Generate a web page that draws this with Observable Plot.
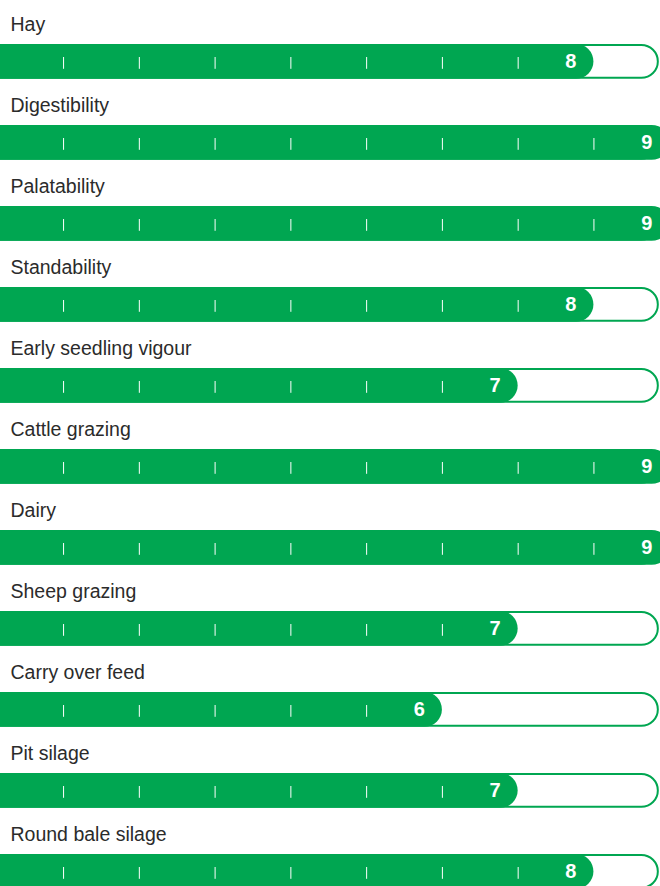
<!DOCTYPE html>
<html>
<head>
<meta charset="utf-8">
<script src="https://cdn.jsdelivr.net/npm/d3@7"></script>
<script src="https://cdn.jsdelivr.net/npm/@observablehq/plot@0.6"></script>
<style>
  html, body { margin: 0; padding: 0; background: #fff; }
  #chart svg { display: block; overflow: hidden; }
</style>
</head>
<body>
<div id="chart"></div>
<script>
const categories = ["Hay", "Digestibility", "Palatability", "Standability", "Early seedling vigour", "Cattle grazing", "Dairy", "Sheep grazing", "Carry over feed", "Pit silage", "Round bale silage"];
const ratings = [8, 9, 9, 8, 7, 9, 9, 7, 6, 7, 8];
const tickValues = [1, 2, 3, 4, 5, 6, 7, 8];
const scaleMax = 9;
const trackEnd = 8.85;
const barStart = -1;

const green = "#00a651";
const font = "'Liberation Sans', Arial, sans-serif";

const rows = categories.map((c, i) => ({category: c, rating: ratings[i]}));
const ticks = rows.flatMap(r => tickValues.filter(k => k < r.rating).map(k => ({category: r.category, k})));

const plot = Plot.plot({
  width: 660,
  height: 886,
  margin: 0,
  style: {fontFamily: font, background: "#fff"},
  x: {domain: [0, scaleMax], range: [-12.7, 669.2], axis: null},
  y: {domain: categories, range: [5, 898.2], padding: 0, axis: null},
  marks: [
    Plot.barX(rows, {x1: () => barStart, x2: () => trackEnd, y: "category", fill: "#fff", stroke: green, strokeWidth: 2, insetTop: 39, insetBottom: 9.2, rx: 16.5}),
    Plot.barX(rows, {x1: () => barStart, x2: "rating", y: "category", fill: green, insetTop: 38, insetBottom: 8.2, rx: 17.5}),
    Plot.tickX(ticks, {x: "k", y: "category", stroke: "#fff", strokeWidth: 1, insetTop: 51, insetBottom: 18.2}),
    Plot.text(rows, {y: "category", text: "category", frameAnchor: "left", dx: 10, dy: -15.6, lineAnchor: "bottom", textAnchor: "start", fill: "#2b2b2b", fontSize: 19.5}),
    Plot.text(rows, {x: "rating", y: "category", text: d => String(d.rating), dx: -23, dy: 14.9, lineAnchor: "middle", textAnchor: "middle", fill: "#fff", fontWeight: "bold", fontSize: 20})
  ]
});
document.getElementById("chart").appendChild(plot);
</script>
</body>
</html>
